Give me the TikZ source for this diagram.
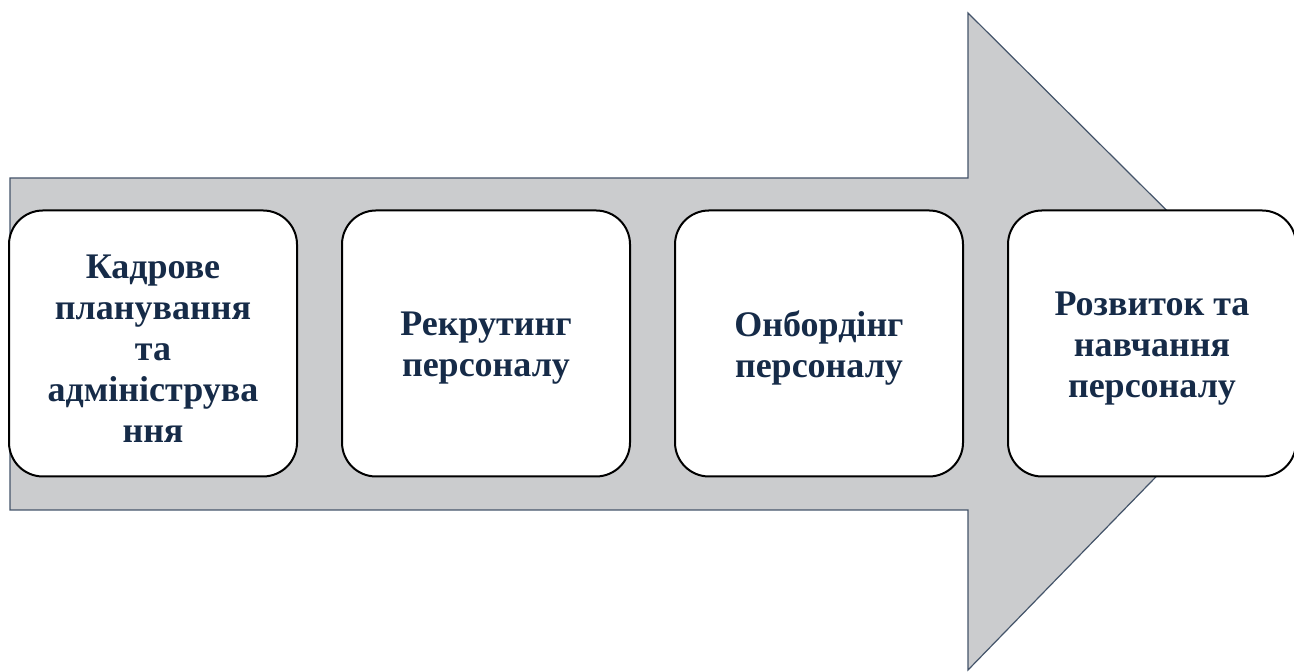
\documentclass[tikz,border=0pt]{standalone}
\usepackage{fontspec}
\setmainfont{Liberation Serif}
\usetikzlibrary{positioning}
\definecolor{ArrowGray}{RGB}{203,204,206}
\definecolor{SlateLine}{RGB}{68,84,106}
\definecolor{NavyText}{RGB}{22,43,72}

\begin{document}
\begin{tikzpicture}[x=0.5pt,y=0.5pt,
    stagetext/.style={align=center,text=NavyText,yshift=-2.5pt,
      font=\fontsize{18}{20.5}\selectfont\bfseries},
    stage/.style={draw=black,line width=1pt,fill=white,rounded corners=17pt,
      minimum width=144pt,minimum height=133pt,inner sep=0pt,
      label={[stagetext]center:{#1}}}]
      \useasboundingbox (0,0) rectangle (1294,672);
      % big arrow
      \filldraw[fill=ArrowGray,draw=SlateLine,line width=0.6pt]
        (10,162)--(10,494)--(968,494)--(968,659)--(1293,336)--(968,2)--(968,162)--cycle;
      % stages
      \node[stage={Кадрове\\планування\\та\\адмініструва\\ння}] (plan) at (153,328.5) {};
      \node[stage={Рекрутинг\\персоналу},right=21.5pt of plan] (recruit) {};
      \node[stage={Онбордінг\\персоналу},right=21.5pt of recruit] (onboard) {};
      \node[stage={Розвиток та\\навчання\\персоналу},right=21.5pt of onboard] (develop) {};
    \end{tikzpicture}
\end{document}
